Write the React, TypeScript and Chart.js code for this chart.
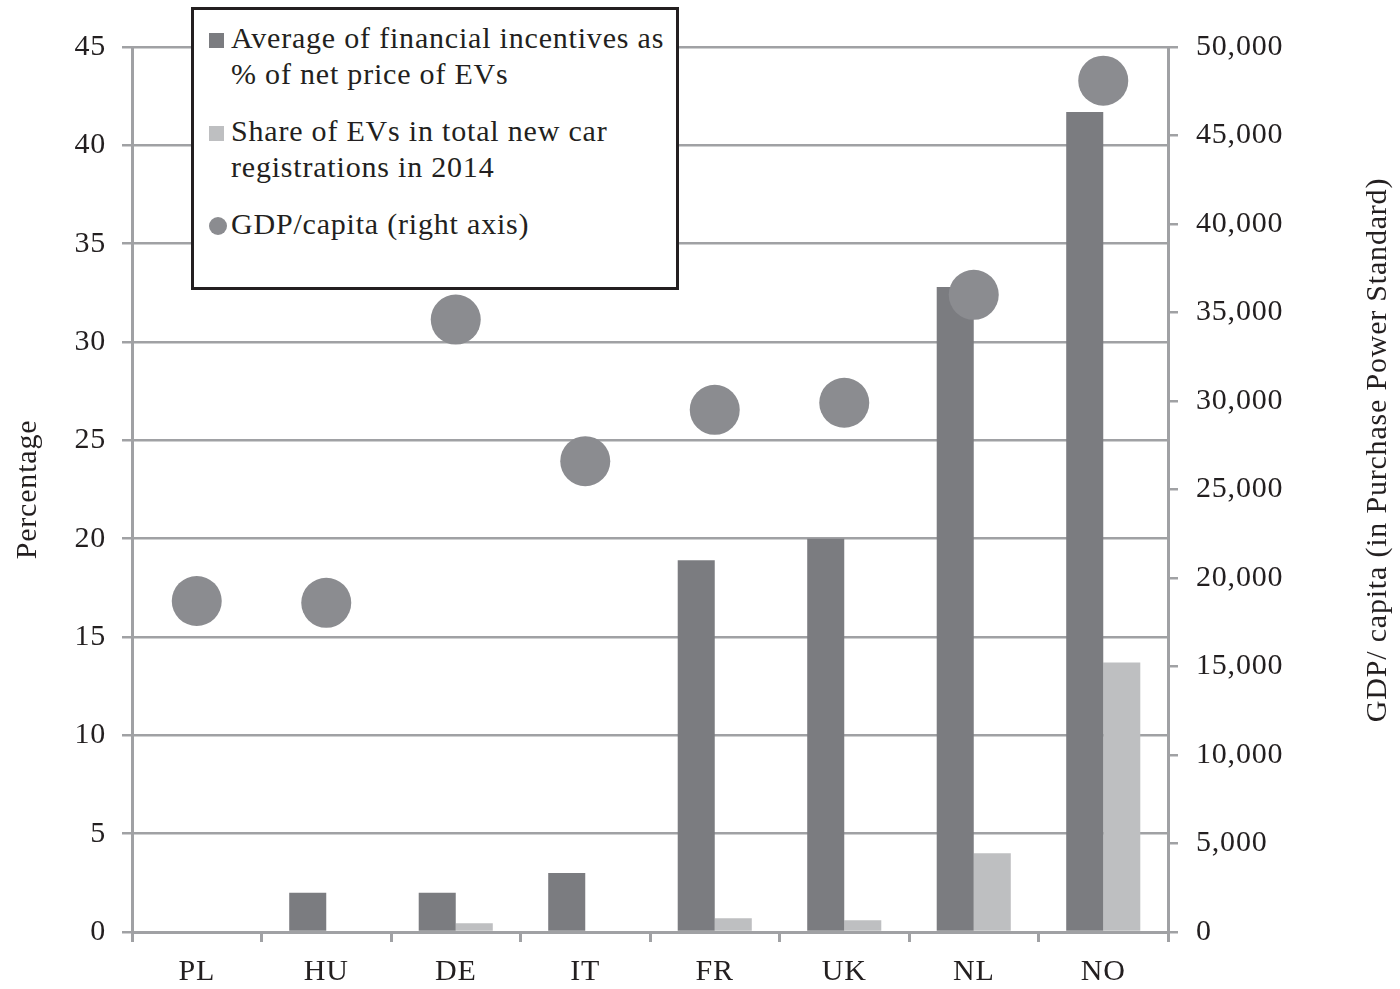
import React, { useEffect, useRef } from "react";
import { Chart, registerables } from "chart.js";

Chart.register(...registerables);

const categories = ["PL", "HU", "DE", "IT", "FR", "UK", "NL", "NO"];
const incentives = [0, 2, 2, 3, 18.9, 20, 32.8, 41.7];
const evShare = [0, 0, 0.45, 0, 0.7, 0.6, 4.0, 13.7];
const gdpPerCapita = [18700, 18600, 34600, 26600, 29500, 29900, 36000, 48100];

const leftTicks = [0, 5, 10, 15, 20, 25, 30, 35, 40, 45];
const rightTicks = [0, 5000, 10000, 15000, 20000, 25000, 30000, 35000, 40000, 45000, 50000];

const legendLines = [
  ["Average of financial incentives as", "% of net price of EVs"],
  ["Share of EVs in total new car", "registrations in 2014"],
  ["GDP/capita (right axis)"],
];
const seriesLabels = legendLines.map((l) => l.join(" "));
const leftTitle = "Percentage";
const rightTitle = "GDP/ capita (in Purchase Power Standard)";

const DARK = "#7b7c80";
const LIGHT = "#bebfc1";
const DOT = "#8b8c90";
const GRID = "#a0a1a4";
const TEXT = "#231f20";
const FONT = "'Liberation Serif', 'Times New Roman', serif";
const FS = 30;
const SPACING = "0.8px";

const spacingPlugin = {
  id: "spacing",
  beforeDraw(chart: any) {
    (chart.ctx as any).letterSpacing = SPACING;
  },
};

const rightTitlePlugin = {
  id: "rightTitle",
  afterDraw(chart: any) {
    const ctx = chart.ctx;
    ctx.save();
    (ctx as any).letterSpacing = SPACING;
    ctx.translate(1378, 450);
    ctx.rotate(-Math.PI / 2);
    ctx.font = `${FS}px ${FONT}`;
    ctx.fillStyle = TEXT;
    ctx.textAlign = "center";
    ctx.textBaseline = "middle";
    ctx.fillText(rightTitle, 0, 0);
    ctx.restore();
  },
};

export default function App() {
  const ref = useRef<HTMLCanvasElement>(null);

  useEffect(() => {
    if (!ref.current) return;
    const chart = new Chart(ref.current, {
      type: "bar",
      data: {
        labels: categories,
        datasets: [
          {
            type: "line",
            label: seriesLabels[2],
            data: gdpPerCapita,
            yAxisID: "y2",
            showLine: false,
            pointRadius: 25,
            pointHoverRadius: 25,
            pointBackgroundColor: DOT,
            pointBorderWidth: 0,
            borderColor: DOT,
            order: 0,
          } as any,
          {
            label: seriesLabels[0],
            data: incentives,
            backgroundColor: DARK,
            yAxisID: "y",
            categoryPercentage: 0.572,
            barPercentage: 1.0,
            order: 1,
          },
          {
            label: seriesLabels[1],
            data: evShare,
            backgroundColor: LIGHT,
            yAxisID: "y",
            categoryPercentage: 0.572,
            barPercentage: 1.0,
            order: 1,
          },
        ],
      },
      options: {
        responsive: false,
        animation: false,
        layout: { padding: { top: 47, left: 0, right: 0, bottom: 0 } },
        plugins: { legend: { display: false }, tooltip: { enabled: false } },
        scales: {
          x: {
            offset: true,
            grid: {
              offset: true,
              drawOnChartArea: false,
              drawTicks: true,
              tickLength: 10,
              color: GRID,
              lineWidth: 3,
            },
            border: { color: GRID, width: 3 },
            ticks: {
              color: TEXT,
              font: { family: FONT, size: FS },
              padding: 12,
            },
            afterFit(scale: any) {
              scale.height = 57;
            },
          },
          y: {
            position: "left",
            min: 0,
            max: 45,
            afterBuildTicks(scale: any) {
              scale.ticks = leftTicks.map((v) => ({ value: v }));
            },
            grid: {
              color: GRID,
              lineWidth: 2.5,
              drawTicks: true,
              tickLength: 10,
            },
            border: { color: GRID, width: 3 },
            ticks: {
              color: TEXT,
              font: { family: FONT, size: FS },
              padding: 16,
            },
            title: {
              display: true,
              text: leftTitle,
              color: TEXT,
              font: { family: FONT, size: FS },
              padding: { top: 10, bottom: 0 },
            },
            afterFit(scale: any) {
              scale.width = 132;
            },
          },
          y2: {
            position: "right",
            min: 0,
            max: 50000,
            afterBuildTicks(scale: any) {
              scale.ticks = rightTicks.map((v) => ({ value: v }));
            },
            grid: {
              drawOnChartArea: false,
              drawTicks: true,
              tickLength: 10,
              color: GRID,
              lineWidth: 2.5,
            },
            border: { color: GRID, width: 3 },
            ticks: {
              color: TEXT,
              font: { family: FONT, size: FS },
              padding: 18,
              callback: (v: any) => Number(v).toLocaleString("en-US"),
            },
            afterFit(scale: any) {
              scale.width = 232;
            },
          },
        },
      },
      plugins: [spacingPlugin, rightTitlePlugin],
    });
    return () => chart.destroy();
  }, []);

  const itemStyle: React.CSSProperties = {
    display: "flex",
    alignItems: "flex-start",
  };
  const markers = [
    { width: 15, height: 15, background: DARK, marginTop: 13, marginRight: 7 },
    { width: 15, height: 15, background: LIGHT, marginTop: 13, marginRight: 7 },
    { width: 18, height: 18, borderRadius: "50%", background: DOT, marginTop: 11, marginRight: 4 },
  ];

  return (
    <div style={{ position: "absolute", left: 0, top: 0, width: 1400, height: 989, background: "#fff" }}>
      <canvas ref={ref} width={1400} height={989} style={{ display: "block" }} />
      <div
        style={{
          position: "absolute",
          left: 191,
          top: 7,
          width: 467,
          height: 267,
          border: "3px solid #231f20",
          background: "#fff",
          fontFamily: FONT,
          fontSize: FS,
          letterSpacing: SPACING,
          lineHeight: "36px",
          color: TEXT,
          padding: "10px 0 0 15px",
          boxSizing: "content-box",
        }}
      >
        {legendLines.map((lines, i) => (
          <div key={i} style={{ ...itemStyle, marginTop: i === 0 ? 0 : 21 }}>
            <span style={{ ...markers[i], flex: "none" } as React.CSSProperties} />
            <span style={{ whiteSpace: "nowrap" }}>
              {lines.map((l, j) => (
                <div key={j}>{l}</div>
              ))}
            </span>
          </div>
        ))}
      </div>
    </div>
  );
}
